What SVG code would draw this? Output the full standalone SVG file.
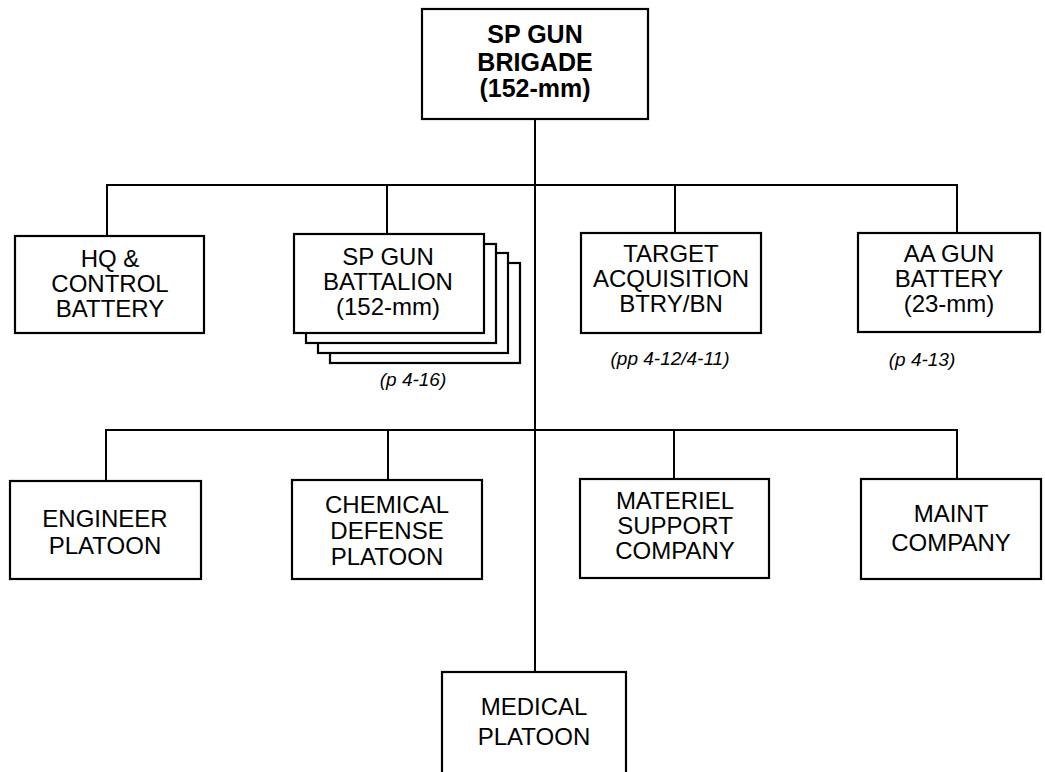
<svg xmlns="http://www.w3.org/2000/svg" width="1045" height="772" viewBox="0 0 1045 772">
<style>
.box{fill:#fff;stroke:#000;stroke-width:2.2}
.t{font-family:"Liberation Sans",Arial,sans-serif;font-size:24px;text-anchor:middle;fill:#000}
.b{font-weight:bold;font-size:25px}
.n{font-family:"Liberation Sans",Arial,sans-serif;font-size:19px;font-style:italic;text-anchor:middle;fill:#000}
.c{fill:none;stroke:#000;stroke-width:2}
</style>
<rect width="1045" height="772" fill="#fff"/>
<g id="connectors">
<path class="c" d="M535,119 V672"/>
<path class="c" d="M107,236 V185 H957 V233"/>
<path class="c" d="M387,234 V185"/>
<path class="c" d="M675,233 V185"/>
<path class="c" d="M106,481 V430 H957 V479"/>
<path class="c" d="M388,479 V430"/>
<path class="c" d="M674,479 V430"/>
</g>
<g id="brigade">
<rect class="box" x="422" y="9" width="226" height="110"/>
<text class="t b" x="535" y="43">SP GUN</text>
<text class="t b" x="535" y="71">BRIGADE</text>
<text class="t b" x="535" y="97">(152-mm)</text>
</g>
<g id="hq">
<rect class="box" x="15" y="236" width="189" height="97"/>
<text class="t" x="110" y="267">HQ &amp;</text>
<text class="t" x="110" y="292">CONTROL</text>
<text class="t" x="110" y="317">BATTERY</text>
</g>
<g id="battalion">
<rect class="box" x="330" y="263" width="190" height="100"/>
<rect class="box" x="318" y="253" width="190" height="100"/>
<rect class="box" x="306" y="244" width="190" height="99"/>
<rect class="box" x="294" y="234" width="190" height="99"/>
<text class="t" x="388" y="265">SP GUN</text>
<text class="t" x="388" y="290">BATTALION</text>
<text class="t" x="388" y="315">(152-mm)</text>
<text class="n" x="413" y="386">(p 4-16)</text>
</g>
<g id="target">
<rect class="box" x="581" y="233" width="180" height="100"/>
<text class="t" x="671" y="262">TARGET</text>
<text class="t" x="671" y="287">ACQUISITION</text>
<text class="t" x="671" y="312">BTRY/BN</text>
<text class="n" x="670" y="365">(pp 4-12/4-11)</text>
</g>
<g id="aa">
<rect class="box" x="858" y="233" width="182" height="99"/>
<text class="t" x="949" y="262">AA GUN</text>
<text class="t" x="949" y="287">BATTERY</text>
<text class="t" x="949" y="312">(23-mm)</text>
<text class="n" x="922" y="366">(p 4-13)</text>
</g>
<g id="engineer">
<rect class="box" x="10" y="481" width="191" height="98"/>
<text class="t" x="105" y="527">ENGINEER</text>
<text class="t" x="105" y="554">PLATOON</text>
</g>
<g id="chemical">
<rect class="box" x="292" y="480" width="190" height="99"/>
<text class="t" x="387" y="513">CHEMICAL</text>
<text class="t" x="387" y="539">DEFENSE</text>
<text class="t" x="387" y="565">PLATOON</text>
</g>
<g id="materiel">
<rect class="box" x="580" y="479" width="189" height="99"/>
<text class="t" x="675" y="509">MATERIEL</text>
<text class="t" x="675" y="534">SUPPORT</text>
<text class="t" x="675" y="559">COMPANY</text>
</g>
<g id="maint">
<rect class="box" x="861" y="479" width="180" height="100"/>
<text class="t" x="951" y="522">MAINT</text>
<text class="t" x="951" y="551">COMPANY</text>
</g>
<g id="medical">
<rect class="box" x="442" y="672" width="184" height="110"/>
<text class="t" x="534" y="715">MEDICAL</text>
<text class="t" x="534" y="745">PLATOON</text>
</g>
</svg>
